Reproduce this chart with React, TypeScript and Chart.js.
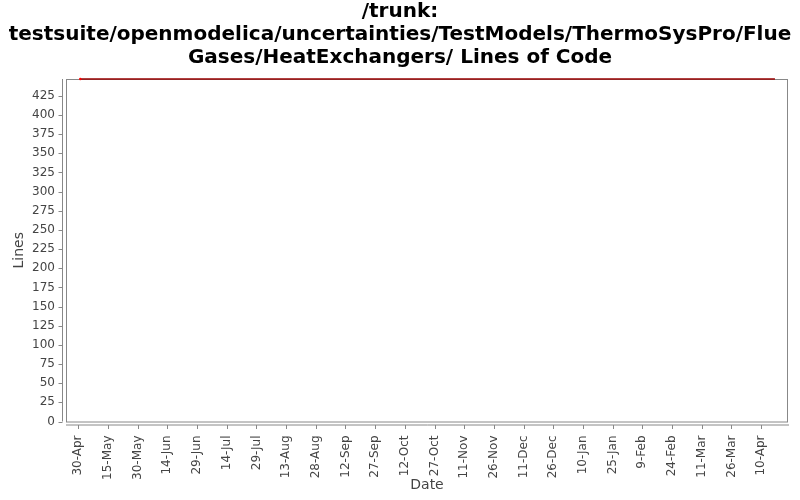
import { useEffect, useRef } from "react";
import { Chart, registerables, Plugin } from "chart.js";

Chart.register(...registerables);

// chart data
const titleLines = [
  "/trunk:",
  "testsuite/openmodelica/uncertainties/TestModels/ThermoSysPro/Flue",
  "Gases/HeatExchangers/ Lines of Code",
];
const dateLabels = [
  "30-Apr", "15-May", "30-May", "14-Jun", "29-Jun", "14-Jul", "29-Jul", "13-Aug",
  "28-Aug", "12-Sep", "27-Sep", "12-Oct", "27-Oct", "11-Nov", "26-Nov", "11-Dec",
  "26-Dec", "10-Jan", "25-Jan", "9-Feb", "24-Feb", "11-Mar", "26-Mar", "10-Apr",
];
const dayOffsets = [1, 352]; // days after 30-Apr
const lineCounts = [447, 447];
const yTickValues = [0, 25, 50, 75, 100, 125, 150, 175, 200, 225, 250, 275, 300, 325, 350, 375, 400, 425];

const AXIS_GRAY = "#888888";
const TEXT_GRAY = "#444444";
const FONT = "'DejaVu Sans', sans-serif";

// title centred on the whole canvas, not on the padded layout box
const titlePlugin: Plugin = {
  id: "centredTitle",
  afterDraw(chart) {
    const { ctx, width } = chart;
    ctx.save();
    ctx.fillStyle = "#000000";
    ctx.font = `bold 20px ${FONT}`;
    ctx.textAlign = "center";
    ctx.textBaseline = "middle";
    titleLines.forEach((line, i) => {
      ctx.fillText(line, width / 2, 12 + i * 23);
    });
    ctx.restore();
  },
};

// plot outline + offset axis lines like the original renderer
const axesPlugin: Plugin = {
  id: "offsetAxes",
  beforeDatasetsDraw(chart) {
    const { ctx, chartArea } = chart;
    const { left, right, top, bottom } = chartArea;
    ctx.save();
    ctx.strokeStyle = AXIS_GRAY;
    ctx.lineWidth = 1;
    ctx.strokeRect(left + 0.5, top + 0.5, right - left - 1, bottom - top);

    // y axis
    const yAxisX = left - 3.5;
    ctx.beginPath();
    ctx.moveTo(yAxisX, top);
    ctx.lineTo(yAxisX, bottom);
    const yScale = chart.scales.y;
    yScale.ticks.forEach((t) => {
      const py = Math.round(yScale.getPixelForValue(t.value)) + 0.5;
      ctx.moveTo(yAxisX - 4, py);
      ctx.lineTo(yAxisX, py);
    });
    // x axis
    const xAxisY = bottom + 3.5;
    ctx.moveTo(left, xAxisY);
    ctx.lineTo(right + 1, xAxisY);
    const xScale = chart.scales.x;
    xScale.ticks.forEach((t) => {
      const px = Math.round(xScale.getPixelForValue(t.value)) + 0.5;
      ctx.moveTo(px, xAxisY);
      ctx.lineTo(px, xAxisY + 4);
    });
    ctx.stroke();
    ctx.restore();
  },
};

export default function App() {
  const chartRef = useRef<HTMLCanvasElement>(null);
  const chartInstance = useRef<Chart | null>(null);

  useEffect(() => {
    if (!chartRef.current) return;
    if (chartInstance.current) chartInstance.current.destroy();

    const points = dayOffsets.map((d, i) => ({ x: d, y: lineCounts[i] }));

    chartInstance.current = new Chart(chartRef.current, {
      type: "line",
      data: {
        datasets: [
          {
            label: "Lines of Code",
            data: points,
            borderColor: "#990000",
            borderWidth: 1.5,
            pointRadius: points.map((_, i) => (i === 0 ? 1.2 : 0)),
            pointBackgroundColor: "#ff0000",
            pointBorderWidth: 0,
            tension: 0,
            clip: 3,
          },
        ],
      },
      options: {
        responsive: true,
        maintainAspectRatio: false,
        animation: false,
        layout: { padding: { left: 0, right: 12, top: 79, bottom: 0 } },
        plugins: {
          legend: { display: false },
          tooltip: { enabled: false },
          title: { display: false },
        },
        scales: {
          x: {
            type: "linear",
            min: -6.2,
            max: 358.6,
            grid: { display: false, drawTicks: false },
            border: { display: false },
            afterBuildTicks: (scale) => {
              scale.ticks = dateLabels.map((_, i) => ({ value: i * 15 }));
            },
            afterFit: (scale) => {
              scale.height = 78.5;
            },
            ticks: {
              autoSkip: false,
              minRotation: 90,
              maxRotation: 90,
              padding: 14,
              color: TEXT_GRAY,
              font: { family: FONT, size: 12 },
              callback: (value) => dateLabels[Math.round(Number(value) / 15)] ?? "",
            },
            title: {
              display: true,
              text: "Date",
              color: TEXT_GRAY,
              font: { family: FONT, size: 14 },
              padding: { top: 0, bottom: 6 },
            },
          },
          y: {
            min: 0,
            max: 447,
            grid: { display: false, drawTicks: false },
            border: { display: false },
            afterBuildTicks: (scale) => {
              scale.ticks = yTickValues.map((v) => ({ value: v }));
            },
            afterFit: (scale) => {
              scale.width = 66;
            },
            ticks: {
              padding: 11,
              color: TEXT_GRAY,
              font: { family: FONT, size: 12 },
            },
            title: {
              display: true,
              text: "Lines",
              color: TEXT_GRAY,
              font: { family: FONT, size: 14 },
              padding: { top: 11, bottom: 0 },
            },
          },
        },
      },
      plugins: [axesPlugin, titlePlugin],
    });

    return () => {
      if (chartInstance.current) {
        chartInstance.current.destroy();
        chartInstance.current = null;
      }
    };
  }, []);

  return (
    <div
      style={{
        position: "fixed",
        left: 0,
        top: 0,
        width: 800,
        height: 500,
        background: "#ffffff",
      }}
    >
      <canvas ref={chartRef}></canvas>
    </div>
  );
}
